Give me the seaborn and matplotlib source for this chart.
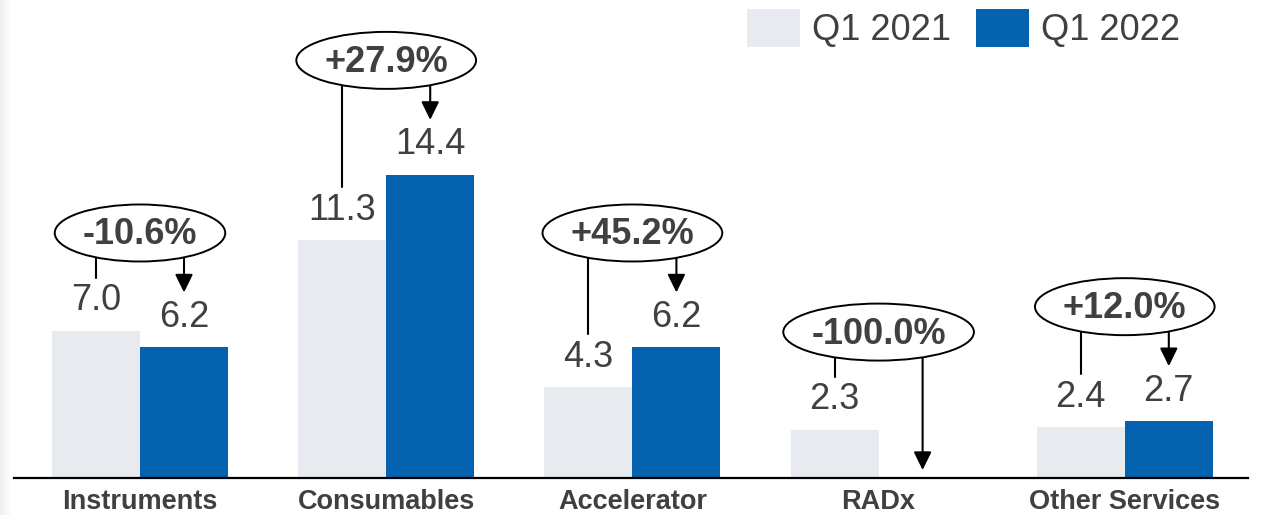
import numpy as np
import pandas as pd
import matplotlib
matplotlib.use("Agg")
import matplotlib.pyplot as plt
from matplotlib.patches import Ellipse, Patch
import seaborn as sns

# Quarterly revenue by segment ($M)
categories = ["Instruments", "Consumables", "Accelerator", "RADx", "Other Services"]
periods = ["Q1 2021", "Q1 2022"]
q1_2021 = [7.0, 11.3, 4.3, 2.3, 2.4]
q1_2022 = [6.2, 14.4, 6.2, 0.0, 2.7]
changes = ["-10.6%", "+27.9%", "+45.2%", "-100.0%", "+12.0%"]

GRAY = "#E7EAEF"
BLUE = "#0562AE"
TEXT = "#404040"

sns.set_theme(style="white")
plt.rcParams["font.family"] = ["Liberation Sans", "DejaVu Sans"]

W, H, DPI = 1261, 515, 100
fig = plt.figure(figsize=(W / DPI, H / DPI), dpi=DPI)
fig.patch.set_facecolor("white")

# faint shading on the left edge
edge = fig.add_axes([0, 0, 12 / W, 1])
edge.imshow(np.linspace(0, 1, 50)[None, :], aspect="auto",
            cmap=matplotlib.colors.LinearSegmentedColormap.from_list("e", ["#EDEFF2", "#FFFFFF"]),
            extent=(0, 1, 0, 1))
edge.axis("off")

# plotting area in pixel geometry
left, right, base = 14, 1248, 478
ax = fig.add_axes([left / W, (H - base) / H, (right - left) / W, base / H])
ax.set_facecolor("none")

df = pd.DataFrame({
    "category": categories * 2,
    "period": [periods[0]] * len(categories) + [periods[1]] * len(categories),
    "value": q1_2021 + q1_2022,
})
bar_w = 0.715
sns.barplot(data=df, x="category", y="value", hue="period", order=categories,
            hue_order=periods, palette=[GRAY, BLUE], width=bar_w, saturation=1,
            errorbar=None, legend=False, linewidth=0, ax=ax)

step = 246.2   # pixels per category slot
ppu = 21.05    # pixels per unit of value
ax.set_xlim((left - 140) / step, (right - 140) / step)
ax.set_ylim(0, base / ppu)

for cont, vals in zip(ax.containers, [q1_2021, q1_2022]):
    ax.bar_label(cont, labels=[f"{v:.1f}" if v > 0 else "" for v in vals],
                 padding=9, fontsize=26, color=TEXT)

ax.set_xlabel("")
ax.set_ylabel("")
ax.set_yticks([])
ax.tick_params(axis="x", length=0, pad=8)
ax.set_xticks(range(len(categories)))
ax.set_xticklabels(categories, fontsize=19.5, fontweight="bold", color=TEXT)
for s in ["top", "right", "left"]:
    ax.spines[s].set_visible(False)
ax.spines["bottom"].set_color("black")
ax.spines["bottom"].set_linewidth(1.6)

# change bubbles with connector line and arrow
renderer = fig.canvas.get_renderer()
half = bar_w / 4
ell_h = 57 / ppu
for i, (v1, v2, lab) in enumerate(zip(q1_2021, q1_2022, changes)):
    x0, x1 = i - half, i + half
    ell_bottom = max(v2 + 86 / ppu, v1 + 69 / ppu)
    cy = ell_bottom + ell_h / 2
    t = ax.text(i, cy - 2 / ppu, lab, ha="center", va="center", fontsize=26,
                fontweight="bold", color=TEXT, zorder=5)
    tw = t.get_window_extent(renderer).width
    ax.add_patch(Ellipse((i, cy), (tw + 56) / step, ell_h, facecolor="white",
                         edgecolor="black", lw=1.4, zorder=4))
    ax.plot([x0, x0], [cy, v1 + 53 / ppu], color="black", lw=1.5, zorder=3)
    tip = v2 + 55 / ppu if v2 > 0 else 8 / ppu
    ax.annotate("", xy=(x1, tip), xytext=(x1, cy), zorder=3,
                arrowprops=dict(arrowstyle="-|>,head_length=0.55,head_width=0.27",
                                mutation_scale=20, color="black", lw=1.5,
                                shrinkA=0, shrinkB=0))

handles = [Patch(facecolor=GRAY, edgecolor="none"), Patch(facecolor=BLUE, edgecolor="none")]
leg = fig.legend(handles, periods, loc="upper right", bbox_to_anchor=(1180 / W, 1 - 9 / H),
                 ncol=2, frameon=False, fontsize=26, handlelength=1.47, handleheight=1.25,
                 handletextpad=0.33, columnspacing=0.69, borderpad=0, borderaxespad=0)
for txt in leg.get_texts():
    txt.set_color(TEXT)

fig.savefig("out.png", dpi=DPI)
